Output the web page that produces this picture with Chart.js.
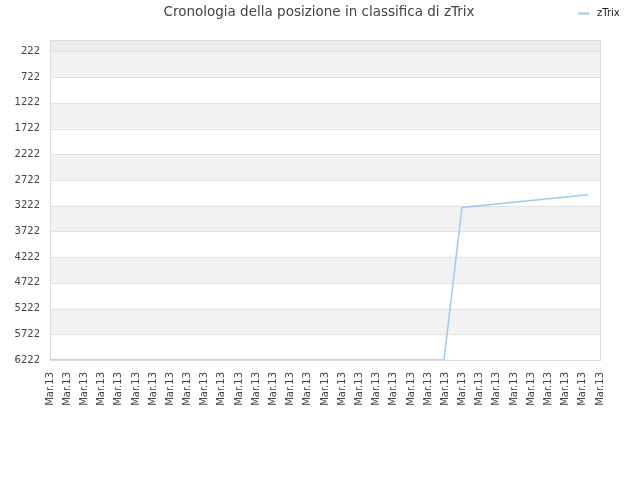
<!DOCTYPE html>
<html>
<head>
<meta charset="utf-8">
<script src="https://cdn.jsdelivr.net/npm/chart.js@4/dist/chart.umd.min.js"></script>
<style>
  html, body { margin: 0; padding: 0; background: #fff; }
  #wrap { width: 640px; height: 480px; }
</style>
</head>
<body>
<div id="wrap"><canvas id="rankChart"></canvas></div>
<script>
const chartTitle = 'Cronologia della posizione in classifica di zTrix';
const seriesName = 'zTrix';
const dayLabel = 'Mar.13';
const tickCount = 33;

// positions along the day axis (0 = first label) and the rank read at each
const timePoints = [0, 22.92, 23.97, 31.3];
const ranks = [6222, 6222, 3257, 3008];

const rankTicks = [222, 722, 1222, 1722, 2222, 2722, 3222, 3722, 4222, 4722, 5222, 5722, 6222];
const rankMin = 1;
const rankMax = 6222;

const lineColor = '#9ccaf3';
const textColor = '#444';
const font = 'DejaVu Sans';

// striped background + border + title + legend
const decorations = {
  id: 'decorations',
  beforeDatasetsDraw(chart) {
    const ctx = chart.ctx;
    const area = chart.chartArea;
    const y = chart.scales.y;
    ctx.save();
    const firstY = y.getPixelForValue(rankTicks[0]);
    ctx.fillStyle = '#ececec';
    ctx.fillRect(area.left, area.top, area.right - area.left, firstY - area.top);
    for (let i = 0; i < rankTicks.length - 1; i++) {
      if (i % 2 === 0) {
        const top = y.getPixelForValue(rankTicks[i]);
        const bottom = y.getPixelForValue(rankTicks[i + 1]);
        ctx.fillStyle = '#f2f2f2';
        ctx.fillRect(area.left, top, area.right - area.left, bottom - top);
      }
    }
    ctx.strokeStyle = '#e2e2e2';
    ctx.lineWidth = 1;
    rankTicks.forEach(v => {
      const py = Math.round(y.getPixelForValue(v)) + 0.5;
      ctx.beginPath();
      ctx.moveTo(area.left, py);
      ctx.lineTo(area.right, py);
      ctx.stroke();
    });
    ctx.strokeStyle = '#dcdcdc';
    ctx.strokeRect(area.left + 0.5, area.top + 0.5, area.right - area.left, area.bottom - area.top);
    ctx.restore();
  },
  afterDraw(chart) {
    const ctx = chart.ctx;
    ctx.save();
    ctx.fillStyle = textColor;
    ctx.font = '13.5px "' + font + '"';
    ctx.textAlign = 'center';
    ctx.textBaseline = 'middle';
    ctx.fillText(chartTitle, 319, 12);

    const ds = chart.data.datasets[0];
    ctx.strokeStyle = ds.borderColor;
    ctx.lineWidth = 2;
    ctx.beginPath();
    ctx.moveTo(578, 13.5);
    ctx.lineTo(589, 13.5);
    ctx.stroke();
    ctx.fillStyle = '#222';
    ctx.font = '10px "' + font + '"';
    ctx.textAlign = 'left';
    ctx.fillText(ds.label, 597, 13);
    ctx.restore();
  }
};

const ctx = document.getElementById('rankChart').getContext('2d');
new Chart(ctx, {
  type: 'line',
  data: {
    datasets: [{
      label: seriesName,
      data: timePoints.map((t, i) => ({ x: t, y: ranks[i] })),
      borderColor: lineColor,
      backgroundColor: lineColor,
      borderWidth: 1.5,
      pointRadius: 0,
      tension: 0,
      fill: false
    }]
  },
  options: {
    responsive: true,
    maintainAspectRatio: false,
    animation: false,
    layout: { padding: { top: 40, right: 40, left: 0, bottom: 0 } },
    plugins: {
      legend: { display: false },
      title: { display: false },
      tooltip: { enabled: false }
    },
    scales: {
      x: {
        type: 'linear',
        min: 0,
        max: tickCount - 1,
        afterBuildTicks(scale) {
          scale.ticks = [];
          for (let i = 0; i < tickCount; i++) scale.ticks.push({ value: i });
        },
        afterFit(scale) { scale.height = 120; },
        ticks: {
          autoSkip: false,
          maxRotation: 90,
          minRotation: 90,
          padding: 12,
          color: textColor,
          font: { family: font, size: 10 },
          callback: () => dayLabel
        },
        grid: { display: false, drawTicks: false },
        border: { display: false }
      },
      y: {
        reverse: true,
        min: rankMin,
        max: rankMax,
        afterBuildTicks(scale) {
          scale.ticks = rankTicks.map(v => ({ value: v }));
        },
        afterFit(scale) { scale.width = 50; },
        ticks: {
          padding: 10,
          color: textColor,
          font: { family: font, size: 10 },
          callback: v => String(v)
        },
        grid: { display: false, drawTicks: false },
        border: { display: false }
      }
    }
  },
  plugins: [decorations]
});
</script>
</body>
</html>
